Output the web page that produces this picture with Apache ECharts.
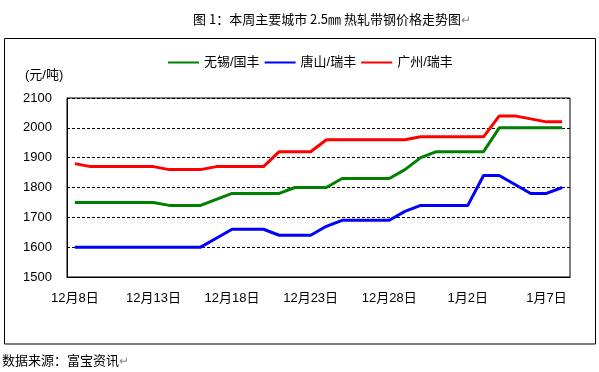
<!DOCTYPE html>
<html>
<head>
<meta charset="utf-8">
<script src="https://cdn.jsdelivr.net/npm/echarts@6/dist/echarts.min.js"></script>
<style>html,body{margin:0;padding:0;background:#fff}#c{width:599px;height:372px}</style>
</head>
<body>
<div id="c"></div>
<script>
// Dates: Dec 8 -> Jan 8, one category per day
var categories = [
  '12月8日','12月9日','12月10日','12月11日','12月12日','12月13日','12月14日','12月15日',
  '12月16日','12月17日','12月18日','12月19日','12月20日','12月21日','12月22日','12月23日',
  '12月24日','12月25日','12月26日','12月27日','12月28日','12月29日','12月30日','12月31日',
  '1月1日','1月2日','1月3日','1月4日','1月5日','1月6日','1月7日','1月8日'
];
var wuxi = [1750,1750,1750,1750,1750,1750,1740,1740,1740,1760,1780,1780,1780,1780,1800,1800,
            1800,1830,1830,1830,1830,1860,1900,1920,1920,1920,1920,2000,2000,2000,2000,2000];
var tangshan = [1600,1600,1600,1600,1600,1600,1600,1600,1600,1630,1660,1660,1660,1640,1640,1640,
                1670,1690,1690,1690,1690,1720,1740,1740,1740,1740,1840,1840,1810,1780,1780,1800];
var guangzhou = [1880,1870,1870,1870,1870,1870,1860,1860,1860,1870,1870,1870,1870,1920,1920,1920,
                 1960,1960,1960,1960,1960,1960,1970,1970,1970,1970,1970,2040,2040,2030,2020,2020];
var seriesNames = ['无锡/国丰','唐山/瑞丰','广州/瑞丰'];
var yTicks = [1500,1600,1700,1800,1900,2000,2100];

var FONT = 'Liberation Sans, Arial, "Noto Sans CJK SC", sans-serif';
var chart = echarts.init(document.getElementById('c'));
chart.setOption({
  animation: false,
  backgroundColor: '#fff',
  title: {
    text: '图 1：本周主要城市 2.5㎜ 热轧带钢价格走势图{g|↵}',
    left: 188, top: 8,
    textStyle: {
      fontFamily: '"Noto Sans CJK SC", sans-serif', fontSize: 13, fontWeight: 'normal', color: '#000',
      rich: { g: { color: '#888', fontSize: 12 } }
    }
  },
  legend: {
    data: seriesNames,
    left: 163, top: 51,
    itemWidth: 31, itemHeight: 2, itemGap: 5,
    icon: 'rect',
    textStyle: { fontFamily: FONT, fontSize: 13, color: '#000' }
  },
  graphic: [
    { type: 'rect', shape: { x: 4.5, y: 38.5, width: 591, height: 305.5 },
      style: { fill: null, stroke: '#000', lineWidth: 1 }, z: -1 },
    { type: 'text', left: 25, top: 69,
      style: { text: '(元/吨)', fontFamily: FONT, fontSize: 13, fill: '#000' } },
    { type: 'text', left: 2, top: 355,
      style: { text: '数据来源：富宝资讯{g|↵}', fontFamily: FONT, fontSize: 13, fill: '#000',
               rich: { g: { fill: '#888', fontSize: 12 } } } }
  ],
  grid: { left: 67, right: 29, top: 98, bottom: 95, show: true, borderColor: '#000', borderWidth: 1, backgroundColor: 'transparent' },
  xAxis: {
    type: 'category',
    data: categories,
    boundaryGap: true,
    axisLine: { lineStyle: { color: '#000', width: 1 } },
    axisTick: { inside: true, length: 5, interval: 4, lineStyle: { color: '#000' } },
    axisLabel: { interval: 4, margin: 15, fontFamily: FONT, fontSize: 13, color: '#000' },
    splitLine: { show: false }
  },
  yAxis: {
    type: 'value',
    min: yTicks[0], max: yTicks[yTicks.length - 1], interval: 100,
    axisLine: { show: true, lineStyle: { color: '#000', width: 1 } },
    axisTick: { show: false },
    axisLabel: { margin: 15, fontFamily: FONT, fontSize: 13, color: '#000',
                 formatter: function (v) { return String(v); } },
    splitLine: { show: true, lineStyle: { color: '#000', type: [3, 2], width: 1 } }
  },
  series: [
    { name: seriesNames[0], type: 'line', data: wuxi, symbol: 'none', lineStyle: { width: 3, color: '#008000' }, itemStyle: { color: '#008000' } },
    { name: seriesNames[1], type: 'line', data: tangshan, symbol: 'none', lineStyle: { width: 3, color: '#0000ff' }, itemStyle: { color: '#0000ff' } },
    { name: seriesNames[2], type: 'line', data: guangzhou, symbol: 'none', lineStyle: { width: 3, color: '#ff0000' }, itemStyle: { color: '#ff0000' } }
  ]
});
</script>
</body>
</html>
